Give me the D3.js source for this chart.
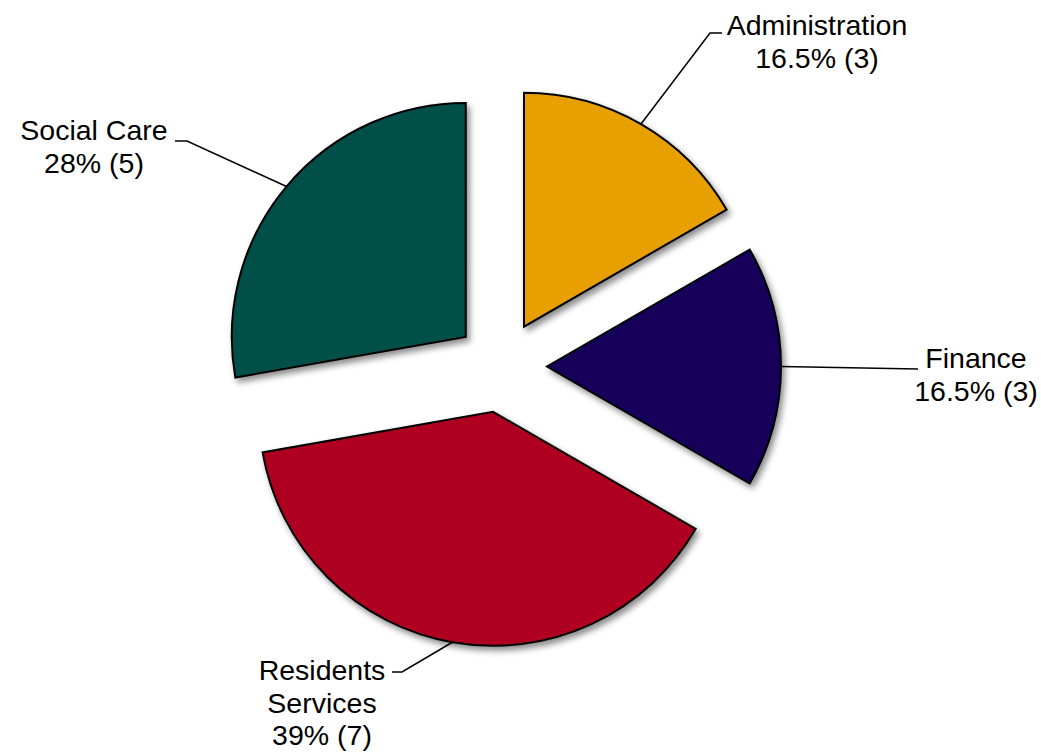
<!DOCTYPE html>
<html>
<head>
<meta charset="utf-8">
<script src="https://cdn.jsdelivr.net/npm/d3@7"></script>
<style>
  html, body { margin: 0; padding: 0; background: #ffffff; }
  svg { display: block; }
  text { font-family: "Liberation Sans", Arial, sans-serif; fill: #000; }
</style>
</head>
<body>
<svg id="chart" width="1041" height="752"></svg>
<script>
// ---- data ----
const categories = ["Administration", "Finance", "Residents Services", "Social Care"];
const counts = [3, 3, 7, 5];
const pctLabels = ["16.5%", "16.5%", "39%", "28%"];
const colors = ["#E8A000", "#12005A", "#B00021", "#00504A"];

// ---- layout ----
const W = 1041, H = 752;
const cx = 501, cy = 366.5, R = 234, explode = 46;
const fontSize = 28.5, lineH = 32.5;
// label layout: elbow/end points and text anchor per slice
const labelLayout = [
  { elbow: [710, 33], end: [722, 33], tx: 817, ty: 35, lines: ["Administration"] },
  { elbow: null, end: [918, 369], tx: 976, ty: 368, lines: ["Finance"] },
  { elbow: [402, 672], end: [392, 672], tx: 322, ty: 680, lines: ["Residents", "Services"] },
  { elbow: [187, 141], end: [175, 141], tx: 94, ty: 140, lines: ["Social Care"] }
];

const svg = d3.select("#chart");
const defs = svg.append("defs");
const f = defs.append("filter").attr("id", "shadow")
  .attr("x", "-20%").attr("y", "-20%").attr("width", "140%").attr("height", "140%");
f.append("feDropShadow").attr("dx", 3).attr("dy", 4).attr("stdDeviation", 3)
  .attr("flood-color", "#000").attr("flood-opacity", 0.45);

const pie = d3.pie().sort(null).value(d => d).startAngle(0).endAngle(2 * Math.PI);
const arcs = pie(counts);
const arc = d3.arc().innerRadius(0).outerRadius(R);

const g = svg.append("g").attr("transform", `translate(${cx},${cy})`);

function offset(a) {
  const mid = (a.startAngle + a.endAngle) / 2;
  return [explode * Math.sin(mid), -explode * Math.cos(mid)];
}

g.selectAll("path.slice").data(arcs).enter().append("path")
  .attr("class", "slice")
  .attr("transform", d => { const o = offset(d); return `translate(${o[0]},${o[1]})`; })
  .attr("d", arc)
  .attr("fill", (d, i) => colors[i])
  .attr("stroke", "#000")
  .attr("stroke-width", 2)
  .attr("stroke-linejoin", "miter")
  .attr("filter", "url(#shadow)");

// leader lines
arcs.forEach((d, i) => {
  const o = offset(d);
  const mid = (d.startAngle + d.endAngle) / 2;
  const sx = cx + o[0] + R * Math.sin(mid);
  const sy = cy + o[1] - R * Math.cos(mid);
  const L = labelLayout[i];
  const pts = [[sx, sy]];
  if (L.elbow) pts.push(L.elbow);
  pts.push(L.end);
  svg.append("path")
    .attr("d", d3.line()(pts))
    .attr("fill", "none")
    .attr("stroke", "#000")
    .attr("stroke-width", 1.5);

  const lines = L.lines.concat([`${pctLabels[i]} (${counts[i]})`]);
  const t = svg.append("text")
    .attr("text-anchor", "middle")
    .attr("font-size", fontSize);
  lines.forEach((ln, j) => {
    t.append("tspan").attr("x", L.tx).attr("y", L.ty + j * lineH).text(ln);
  });
});
</script>
</body>
</html>
